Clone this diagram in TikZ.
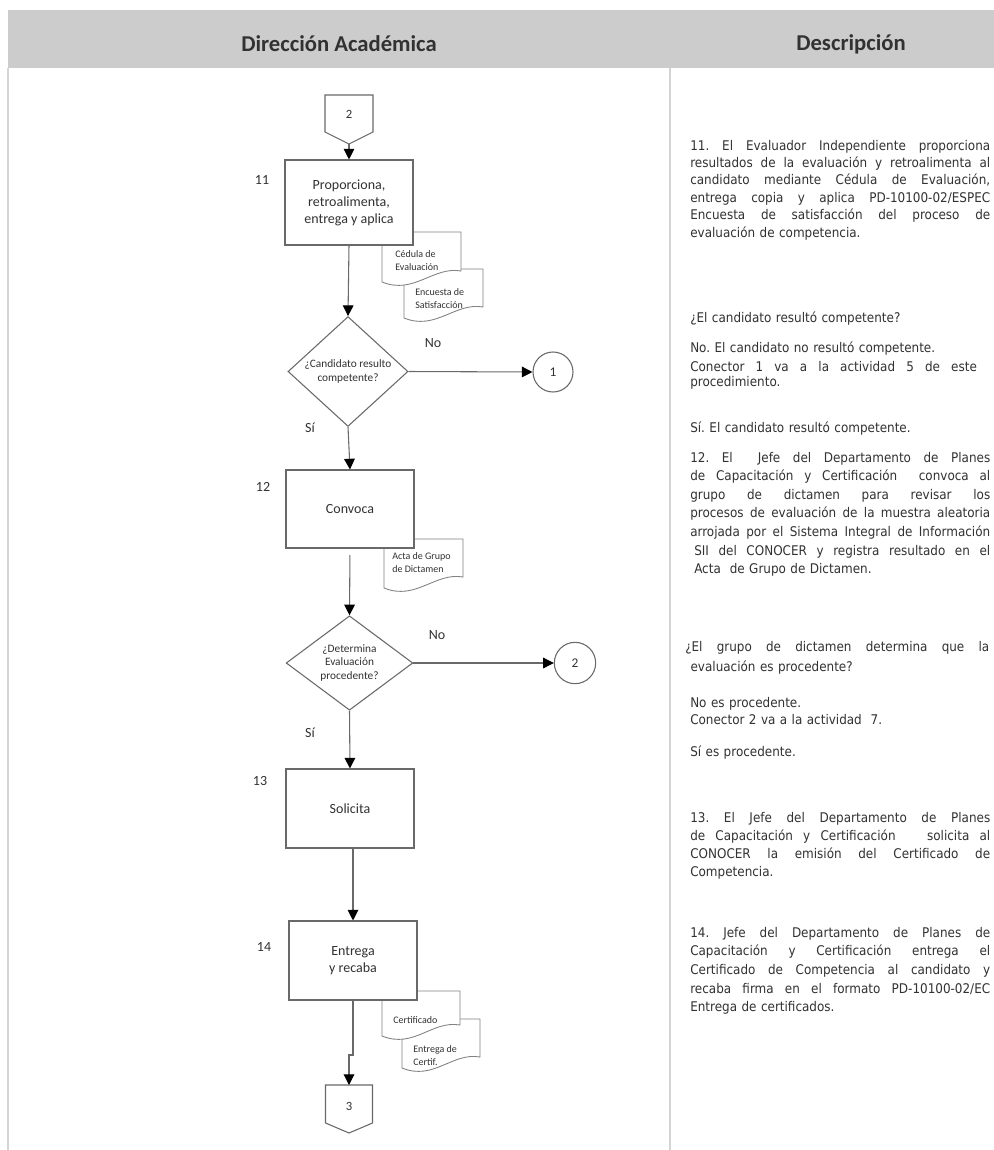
\documentclass[tikz,border=0pt]{standalone}
\usepackage{fontspec}
\setmainfont{Carlito}
\newfontfamily\descfont{DejaVu Sans Condensed}
\usetikzlibrary{arrows.meta,shapes.geometric}

\definecolor{headgray}{RGB}{204,204,204}
\definecolor{rulegray}{RGB}{212,212,212}
\definecolor{ink}{RGB}{50,50,50}
\definecolor{linegray}{RGB}{105,105,105}
\definecolor{docgray}{RGB}{130,130,130}

% one justified line of a description paragraph (optional width)
\newcommand\jl[2][225pt]{\leavevmode\hbox to #1{\spaceskip=0.3em plus 1fil\xspaceskip=0.3em plus 1fil #2}}
% page symbol with a wavy lower edge: x0, top, x1, lower-left y
\newcommand\docpage[4]{%
  \draw[docshape] (#1,#2) -- (#3,#2) -- (#3,#4-11)
    .. controls (#3-28,#4-16) and (#1+32,#4+13) .. (#1,#4) -- cycle;}

\tikzset{
  flowline/.style={draw=linegray, line width=0.8pt},
  arr/.style={flowline, -{Triangle[width=8pt,length=8pt,color=black]}},
  procbox/.style={flowline, fill=white, rectangle, minimum width=96pt,
    inner sep=2pt, align=center, text=ink, font=\fontsize{10.5}{12.8}\selectfont},
  decision/.style={flowline, fill=white, diamond, inner sep=0pt, align=center,
    text=ink, font=\fontsize{8.5}{10}\selectfont},
  offpage/.style={flowline, fill=white},
  circ/.style={flowline, fill=white, circle, inner sep=0pt, minimum size=30pt,
    text=ink, font=\fontsize{10}{12}\selectfont},
  docshape/.style={draw=docgray, line width=0.65pt, fill=white},
  doctext/.style={anchor=west, align=left, inner sep=0pt, text=ink,
    font=\fontsize{7.5}{9.8}\selectfont},
  steplabel/.style={text=ink, inner sep=0pt, font=\fontsize{10.5}{12}\selectfont},
  head/.style={text=ink, inner sep=0pt, font=\bfseries\fontsize{17}{20}\selectfont},
  desc/.style={anchor=base west, inner sep=0pt, align=left, text=ink, text width=#1},
  desc/.default=232pt,
}

\begin{document}
\begin{tikzpicture}[x=0.75pt,y=-0.75pt]
\useasboundingbox (0,0) rectangle (994,1150);
\fill[white] (0,0) rectangle (994,1150);

% header band and column rules
\fill[headgray] (8,10) rectangle (1000,68);
\node[head] (hl) at (339,44) {Dirección Académica};
\node[head] (hr) at (851,44) {Descripción};
\draw[rulegray, line width=1.2pt] (670,68) -- (670,1150);
\draw[rulegray, line width=0.8pt] (8,68) -- (8,1150);

% documents produced by the activities (drawn first, they sit behind the boxes)
\docpage{404}{269}{483}{318}
\docpage{382}{232}{461}{282}
\node[doctext] (dce) at (395,260.5) {Cédula de\\Evaluación};
\node[doctext] (den) at (415,298.5) {Encuesta de\\Satisfacción};
\docpage{384}{539}{463}{588}
\node[doctext] (dac) at (392,563) {Acta de Grupo\\de Dictamen};
\docpage{402}{1019}{480}{1068}
\docpage{382}{991}{460}{1036}
\node[doctext] (dcf) at (393,1020) {Certificado};
\node[doctext] (den2) at (413,1055.5) {Entrega de\\Certif.};

% incoming off-page connector
\draw[offpage] (325,95) -- (373,95) -- (373,132) -- (349,144) -- (325,132) -- cycle;
\node[steplabel, font=\fontsize{9.5}{11}\selectfont] (c2) at (349,114) {2};
\coordinate (c2tip) at (349,144);

% activities
\node[procbox, minimum height=63.75pt] (b11) at (349,202.5)
  {Proporciona,\\retroalimenta,\\entrega y aplica};
\node[steplabel] (n11) at (262,180) {11};

\node[decision, minimum width=90pt, minimum height=57.75pt] (d1) at (348,371.5)
  {¿Candidato resulto\\competente?};
\node[circ] (k1) at (553,372) {1};
\node[steplabel] (no1) at (433,343) {No};
\node[steplabel] (si1) at (310,428) {Sí};

\node[procbox, minimum height=58.5pt] (b12) at (350,509) {Convoca};
\node[steplabel] (n12) at (263,487) {12};

\node[decision, minimum width=95pt, minimum height=61.5pt] (d2) at (349.5,663)
  {¿Determina\\Evaluación\\procedente?};
\node[circ, minimum size=31pt] (k2) at (575,663) {2};
\node[steplabel] (no2) at (437,635) {No};
\node[steplabel] (si2) at (310,733) {Sí};

\node[procbox, minimum height=59.25pt] (b13) at (350,808.5) {Solicita};
\node[steplabel] (n13) at (260,781) {13};

\node[procbox, minimum height=59.25pt] (b14) at (353,960.5) {Entrega\\y recaba};
\node[steplabel] (n14) at (264,947) {14};

% outgoing off-page connector
\draw[offpage] (325.5,1085) -- (372.5,1085) -- (372.5,1123) -- (349,1133) -- (325.5,1123) -- cycle;
\node[steplabel, font=\fontsize{9.5}{11}\selectfont] (c3) at (349,1106) {3};
\coordinate (c3top) at (349,1085);
\coordinate (jog) at (353,1055);

% flow
\draw[arr] (c2tip) -- (b11.north);
\draw[arr] (b11.south) -- (d1.north);
\draw[arr] (d1.east) -- (k1.west);
\draw[arr] (d1.south) -- (b12.north);
\draw[arr, shorten <=5pt] (b12.south) -- (d2.north);
\draw[arr] (d2.east) -- (k2.west);
\draw[arr] (d2.south) -- (b13.north);
\draw[arr] (b13.south -| b14.north) -- (b14.north);
\draw[arr] (b14.south) -- (jog) -| (c3top);

% descriptions
\begin{scope}[every node/.append style={font=\descfont\frenchspacing\fontsize{10}{13.1}\selectfont}]
\node[desc] (t11) at (690,150)
  {\jl{11. El Evaluador Independiente proporciona}\\
   \jl{resultados de la evaluación y retroalimenta al}\\
   \jl{candidato mediante Cédula de Evaluación,}\\
   \jl{entrega copia y aplica PD-10100-02/ESPEC}\\
   \jl{Encuesta de satisfacción del proceso de}\\
   evaluación de competencia.};
\node[desc] (q1) at (690,322) {¿El candidato resultó competente?};
\node[desc] (r1) at (690,352) {No. El candidato no resultó competente.};
\node[desc, font=\descfont\frenchspacing\fontsize{10}{11.3}\selectfont] (r1b) at (690,371)
  {\jl[215pt]{Conector 1 va a la actividad 5 de este}\\procedimiento.};
\node[desc] (s1) at (690,432) {Sí. El candidato resultó competente.};
\node[desc, font=\descfont\frenchspacing\fontsize{10}{13.95}\selectfont] (t12) at (690,462)
  {\jl{12. El\ \ Jefe del Departamento de Planes}\\
   \jl{de Capacitación y Certificación\ \ convoca al}\\
   \jl{grupo de dictamen para revisar los}\\
   \jl{procesos de evaluación de la muestra aleatoria}\\
   \jl{arrojada por el Sistema Integral de Información}\\
   \jl{\hspace{3pt}SII del CONOCER y registra resultado en el}\\
   \hspace{3pt}Acta\ \ de Grupo de Dictamen.};
\node[desc, font=\descfont\frenchspacing\fontsize{10}{15}\selectfont] (q2) at (685,651)
  {\jl[228pt]{¿El grupo de dictamen determina que la}\\
   \hspace{4pt}evaluación es procedente?};
\node[desc, font=\descfont\frenchspacing\fontsize{10}{12.75}\selectfont] (r2) at (690,707)
  {No es procedente.\\Conector 2 va a la actividad\ \ 7.};
\node[desc] (s2) at (690,756) {Sí es procedente.};
\node[desc, font=\descfont\frenchspacing\fontsize{10}{13.7}\selectfont] (t13) at (690,822)
  {\jl{13. El Jefe del Departamento de Planes}\\
   \jl{de Capacitación y Certificación\hspace{16pt} solicita al}\\
   \jl{CONOCER la emisión del Certificado de}\\
   Competencia.};
\node[desc, font=\descfont\frenchspacing\fontsize{10}{14}\selectfont] (t14) at (690,937)
  {\jl{14. Jefe del Departamento de Planes de}\\
   \jl{Capacitación y Certificación entrega el}\\
   \jl{Certificado de Competencia al candidato y}\\
   \jl{recaba firma en el formato PD-10100-02/EC}\\
   Entrega de certificados.};
\end{scope}
\end{tikzpicture}
\end{document}
